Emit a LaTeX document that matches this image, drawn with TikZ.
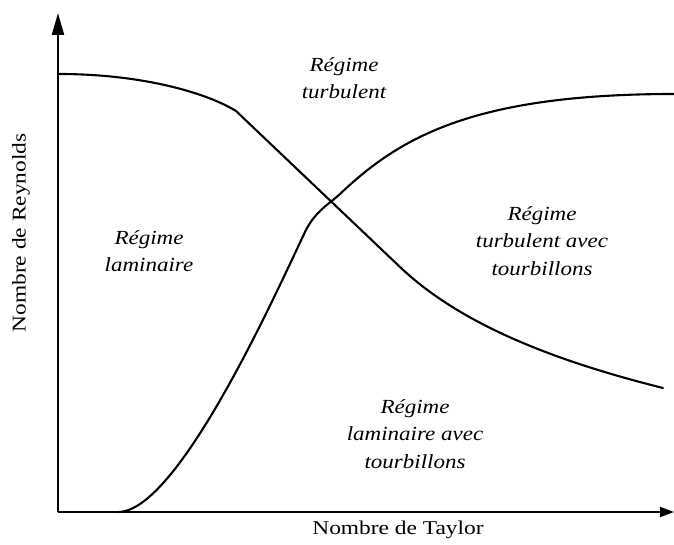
\documentclass[tikz,border=0pt]{standalone}
\usepackage{fontspec}
\setmainfont{Liberation Serif}
\newfontfamily\regfont{Liberation Serif}[FakeStretch=1.15]
\newfontfamily\axfont{Liberation Serif}[FakeStretch=1.2]
\usetikzlibrary{arrows.meta}
\begin{document}
\begin{tikzpicture}[x=1pt,y=-1pt,
  axis/.style={line width=2.1pt},
  curve/.style={line width=2.1pt, line join=round, line cap=round},
  region/.style={align=center, font=\regfont\itshape\fontsize{20}{27.5}\selectfont, inner sep=0pt},
  axlabel/.style={font=\axfont\fontsize{19.5}{22}\selectfont, inner sep=0pt}]
\useasboundingbox (0,0) rectangle (674,545);
% axes
\coordinate (O) at (58,512);
\coordinate (Ytop) at (58,13);
\coordinate (Xend) at (674,512);
\draw[axis, -{Triangle[length=22pt,width=12pt]}] (O) -- (Ytop);
\draw[axis, -{Triangle[length=14pt,width=10pt]}] (O) -- (Xend);
% descending boundary
\coordinate (a0) at (59,74);
\coordinate (a1) at (236,111);
\coordinate (a2) at (400,267);
\coordinate (a3) at (663,388);
\draw[curve] (a0) .. controls (140,74) and (205,92) .. (a1)
  -- (a2) .. controls (460,324) and (553,360.5) .. (a3);
% ascending boundary
\coordinate (b0) at (118,512);
\coordinate (b1) at (305,232);
\coordinate (b2) at (340,194);
\coordinate (b3) at (674,94);
\draw[curve] (b0) .. controls (178,512) and (275,295) .. (b1)
  .. controls (315,211) and (330,203.5) .. (b2)
  .. controls (400,137) and (474,94) .. (b3);
% region labels
\node[region] (turb) at (344,78) {Régime\\turbulent};
\node[region] (lam) at (149,251) {Régime\\laminaire};
\node[region] (turbt) at (542,241) {Régime\\turbulent avec\\tourbillons};
\node[region] (lamt) at (415,434) {Régime\\laminaire avec\\tourbillons};
% axis labels
\node[axlabel] (xl) at (398,530) {Nombre de Taylor};
\node[axlabel, rotate=90] (yl) at (21,233) {Nombre de Reynolds};
\end{tikzpicture}
\end{document}
